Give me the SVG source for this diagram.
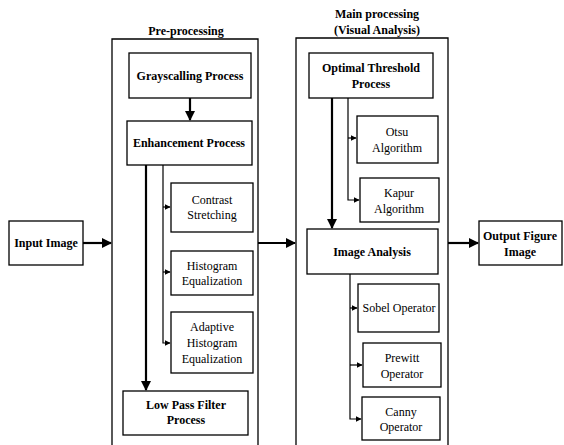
<svg xmlns="http://www.w3.org/2000/svg" width="564" height="445" viewBox="0 0 564 445">
<defs>
<marker id="ah" viewBox="0 0 10 10" refX="9" refY="5" markerWidth="10" markerHeight="10" markerUnits="userSpaceOnUse" orient="auto"><path d="M0,0 L10,5 L0,10 z" fill="#000"/></marker>
<marker id="as" viewBox="0 0 10 10" refX="9" refY="5" markerWidth="6" markerHeight="6" markerUnits="userSpaceOnUse" orient="auto"><path d="M0,0 L10,5 L0,10 z" fill="#000"/></marker>
<style>
rect{fill:#fff;stroke:#000;stroke-width:1.3}
.frame{fill:none;stroke:#000;stroke-width:1.3}
text{font-family:"Liberation Serif","Times New Roman",serif;font-size:12px;fill:#000;text-anchor:middle}
.b{font-weight:bold}
.t{fill:none;stroke:#000;stroke-width:1.2}
.k{fill:none;stroke:#000;stroke-width:2.2}
</style>
</defs>
<rect width="564" height="445" style="fill:#fff;stroke:none"/>
<g id="preprocessing">
<text class="b" x="186" y="35">Pre-processing</text>
<path class="frame" d="M112,447 V39 H258 V447"/>
</g>
<g id="mainprocessing">
<text class="b" x="377" y="18">Main processing</text>
<text class="b" x="377" y="34">(Visual Analysis)</text>
<path class="frame" d="M296,447 V38 H448 V447"/>
</g>
<g id="input"><rect x="9" y="221" width="74" height="44"/><text class="b" x="46" y="247">Input Image</text></g>
<g id="gray"><rect x="129" y="53" width="122" height="45"/><text class="b" x="190" y="80">Grayscalling Process</text></g>
<g id="enh"><rect x="127" y="121" width="125" height="44"/><text class="b" x="189" y="147">Enhancement Process</text></g>
<g id="contrast"><rect x="171" y="183" width="82" height="49"/><text x="212" y="204">Contrast</text><text x="212" y="219">Stretching</text></g>
<g id="histeq"><rect x="171" y="251" width="82" height="44"/><text x="212" y="270">Histogram</text><text x="212" y="285">Equalization</text></g>
<g id="adaptive"><rect x="171" y="312" width="82" height="61"/><text x="212" y="331">Adaptive</text><text x="212" y="347">Histogram</text><text x="212" y="363">Equalization</text></g>
<g id="lowpass"><rect x="123" y="391" width="125" height="44"/><text class="b" x="186" y="409">Low Pass Filter</text><text class="b" x="186" y="424">Process</text></g>
<g id="optimal"><rect x="309" y="53" width="124" height="45"/><text class="b" x="371" y="72">Optimal Threshold</text><text class="b" x="371" y="88">Process</text></g>
<g id="otsu"><rect x="357" y="116" width="81" height="47"/><text x="397" y="136">Otsu</text><text x="397" y="152">Algorithm</text></g>
<g id="kapur"><rect x="360" y="178" width="79" height="44"/><text x="399" y="197">Kapur</text><text x="399" y="213">Algorithm</text></g>
<g id="analysis"><rect x="307" y="229" width="131" height="45"/><text class="b" x="372" y="256">Image Analysis</text></g>
<g id="sobel"><rect x="358" y="284" width="81" height="48"/><text x="399" y="312">Sobel Operator</text></g>
<g id="prewitt"><rect x="363" y="343" width="78" height="44"/><text x="402" y="362">Prewitt</text><text x="402" y="378">Operator</text></g>
<g id="canny"><rect x="362" y="397" width="78" height="43"/><text x="401" y="416">Canny</text><text x="401" y="431">Operator</text></g>
<g id="output"><rect x="479" y="221" width="83" height="44"/><text class="b" x="520" y="240">Output Figure</text><text class="b" x="520" y="256">Image</text></g>
<g id="connectors">
<path class="k" d="M83,243 H111" marker-end="url(#ah)"/>
<path class="k" d="M258,243 H295" marker-end="url(#ah)"/>
<path class="k" d="M448,243 H478" marker-end="url(#ah)"/>
<path class="k" d="M190,98 V120" marker-end="url(#ah)"/>
<path class="k" d="M146,165 V390" marker-end="url(#ah)"/>
<path class="t" d="M163,165 V343 H170" marker-end="url(#as)"/>
<path class="t" d="M163,207 H170" marker-end="url(#as)"/>
<path class="t" d="M163,272 H170" marker-end="url(#as)"/>
<path class="k" d="M332,98 V228" marker-end="url(#ah)"/>
<path class="t" d="M348,98 V200 H359" marker-end="url(#as)"/>
<path class="t" d="M348,138 H356" marker-end="url(#as)"/>
<path class="t" d="M350,274 V419 H361" marker-end="url(#as)"/>
<path class="t" d="M350,308 H357" marker-end="url(#as)"/>
<path class="t" d="M350,365 H362" marker-end="url(#as)"/>
</g>
</svg>
